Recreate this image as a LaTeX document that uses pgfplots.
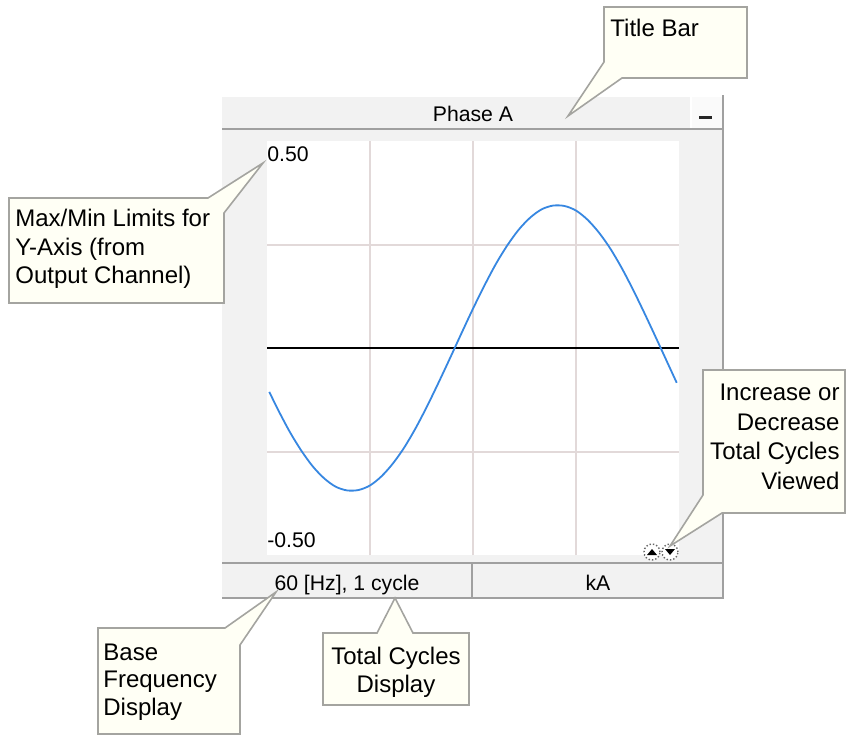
\documentclass[border=0pt]{standalone}
\usepackage{pgfplots}
\pgfplotsset{compat=1.18}
\usepackage{fontspec}
\setmainfont{Liberation Sans}
\definecolor{panelbg}{HTML}{F2F2F2}
\definecolor{panelline}{HTML}{A0A0A0}
\definecolor{gridc}{HTML}{E2D9D9}
\definecolor{sinec}{RGB}{55,135,225}
\definecolor{callfill}{HTML}{FFFFF5}
\definecolor{callline}{HTML}{A4A4A0}
\newcommand{\ctext}{\fontsize{12}{14.5}\selectfont}
\newcommand{\ptext}{\fontsize{10.6}{13}\selectfont}
\begin{document}
\begin{tikzpicture}
\begin{scope}[x=0.5pt,y=0.5pt]
\useasboundingbox (0,0) rectangle (846,736);
% panel
\fill[panelbg] (222,138) rectangle (723,639);
\fill[white!60!panelbg] (691,608) rectangle (722,639);
\draw[white, line width=0.6pt] (691,608)--(691,639);
\draw[panelline, line width=1pt] (222,607)--(723,607);
\draw[panelline, line width=1pt] (222,173)--(723,173);
\draw[panelline, line width=1pt] (222,138)--(724,138);
\draw[panelline, line width=1pt] (723,641)--(723,138);
\draw[panelline, line width=1pt] (472,173)--(472,138);
\draw[black!85, line width=1.5pt] (699,619)--(712,619);
\node[anchor=base, inner sep=0pt] at (473,615) {\ptext Phase A};
\node[anchor=base, inner sep=0pt] at (347,146) {\ptext 60 [Hz], 1 cycle};
\node[anchor=base, inner sep=0pt] at (598,146) {\ptext kA};
\end{scope}
\begin{axis}[
  at={(133.5pt,90.5pt)}, anchor=south west,
  scale only axis, width=206pt, height=207pt,
  xmin=0, xmax=360, ymin=-0.5, ymax=0.5,
  axis background/.style={fill=white},
  axis line style={draw=none},
  tick style={draw=none},
  xtick={90,180,270}, ytick={-0.25,0.25},
  xticklabels={}, yticklabels={},
  grid=major, major grid style={color=gridc, line width=1pt},
  clip=true,
]
\addplot[black, line width=1pt] coordinates {(0,0) (360,0)};
\addplot[sinec, line width=0.9pt, smooth] coordinates {
(2,-0.106) (10,-0.151) (20,-0.203) (30,-0.248) (40,-0.286) (50,-0.315)
(60,-0.335) (70,-0.344) (80,-0.343) (90,-0.332) (100,-0.310) (110,-0.279)
(120,-0.240) (130,-0.193) (140,-0.140) (150,-0.083) (160,-0.024) (170,0.036)
(180,0.095) (190,0.151) (200,0.203) (210,0.248) (220,0.286) (230,0.315)
(240,0.335) (250,0.344) (260,0.343) (270,0.332) (280,0.310) (290,0.279)
(300,0.240) (310,0.193) (320,0.140) (330,0.083) (340,0.024) (350,-0.036)
(358,-0.084)};
\end{axis}
\begin{scope}[x=0.5pt,y=0.5pt]
\node[anchor=base west, inner sep=0pt] at (267,575) {\ptext 0.50};
\node[anchor=base west, inner sep=0pt] at (267,189) {\ptext -0.50};
% up/down buttons
\draw[black!60, fill=white, line width=0.7pt, densely dotted] (652,184) circle (8);
\draw[black!60, fill=white, line width=0.7pt, densely dotted] (670,184) circle (8);
\fill[black] (647,181)--(657,181)--(652,187)--cycle;
\fill[black] (665,187)--(675,187)--(670,181)--cycle;
% callouts
\tikzset{call/.style={fill=callfill, draw=callline, line width=0.8pt, line join=miter}}
% Title Bar
\draw[call] (604,729)--(747,729)--(747,658)--(622,658)--(568,620)--(604,674)--cycle;
\node[anchor=base west, inner sep=0pt] at (610,700) {\ctext Title Bar};
% Max/Min
\draw[call] (9,538)--(208,538)--(263,573)--(224,523)--(224,433)--(9,433)--cycle;
\node[anchor=base west, inner sep=0pt] at (15,510) {\ctext Max/Min Limits for};
\node[anchor=base west, inner sep=0pt] at (15,481) {\ctext Y-Axis (from};
\node[anchor=base west, inner sep=0pt] at (15,453) {\ctext Output Channel)};
% Increase
\draw[call] (703,366)--(845,366)--(845,223)--(722,223)--(670,190)--(703,241)--cycle;
\node[anchor=base east, inner sep=0pt] at (840,336) {\ctext Increase or};
\node[anchor=base east, inner sep=0pt] at (840,306) {\ctext Decrease};
\node[anchor=base east, inner sep=0pt] at (840,277) {\ctext Total Cycles};
\node[anchor=base east, inner sep=0pt] at (840,247) {\ctext Viewed};
% Base Frequency
\draw[call] (98,108)--(225,108)--(276,144)--(240,91)--(240,2)--(98,2)--cycle;
\node[anchor=base west, inner sep=0pt] at (103,76) {\ctext Base};
\node[anchor=base west, inner sep=0pt] at (103,49) {\ctext Frequency};
\node[anchor=base west, inner sep=0pt] at (103,21) {\ctext Display};
% Total Cycles
\draw[call] (323,103)--(377,103)--(395,138)--(413,103)--(469,103)--(469,31)--(323,31)--cycle;
\node[anchor=base, inner sep=0pt] at (396,72) {\ctext Total Cycles};
\node[anchor=base, inner sep=0pt] at (396,44) {\ctext Display};
\end{scope}
\end{tikzpicture}
\end{document}
